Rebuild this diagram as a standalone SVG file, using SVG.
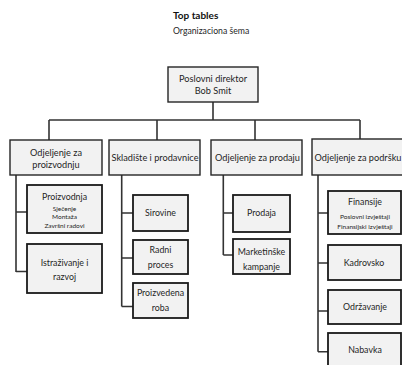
<svg xmlns="http://www.w3.org/2000/svg" width="402" height="365" viewBox="0 0 402 365">
<style>
.bg{fill:#ffffff}
.b1{fill:#f2f2f2;stroke:#262626;stroke-width:1.4}
.b2{fill:#f2f2f2;stroke:#1a1a1a;stroke-width:1.8}
.c{fill:none;stroke:#333333;stroke-width:1.6}
text{font-family:Lato,"Liberation Sans",sans-serif;fill:#1f1f1f;text-anchor:middle}
.t{font-size:9.2px}
.m{font-size:8.8px}
.s{font-size:6.5px}
.h{font-size:10px;font-weight:bold;text-anchor:start;fill:#111}
.h2{font-size:8.7px;text-anchor:start}
</style>
<rect class="bg" x="0" y="0" width="402" height="365"/>
<g id="title">
<text class="h" x="173" y="19">Top tables</text>
<text class="h2" x="173" y="34">Organizaciona šema</text>
</g>
<g id="connectors">
<path class="c" d="M213,102 V120 M49,120 H360 M49,120 V140 M157,120 V140 M255,120 V140 M360,120 V139"/>
<path class="c" d="M16,175 V272 M16,212 H27 M16,271.5 H27"/>
<path class="c" d="M121.7,175 V306.5 M121.7,213 H133 M121.7,258 H133 M121.7,306.5 H133"/>
<path class="c" d="M223.3,175 V255 M223.3,213 H233 M223.3,255 H233"/>
<path class="c" d="M318,175 V351.7 M318,213 H328 M318,263 H328 M318,311 H328 M318,351.7 H328"/>
</g>
<g id="n-direktor">
<rect class="b1" x="168" y="67" width="90" height="35"/>
<text class="t" x="213" y="81.5">Poslovni direktor</text>
<text class="t" x="213" y="94">Bob Smit</text>
</g>
<g id="n-proizvodnju">
<rect class="b1" x="10" y="140" width="92" height="35"/>
<text class="t" x="56" y="155.5">Odjeljenje za</text>
<text class="t" x="56" y="168">proizvodnju</text>
</g>
<g id="n-skladiste">
<rect class="b1" x="109" y="140" width="91" height="35"/>
<text class="t" x="155" y="160.5">Skladište i prodavnice</text>
</g>
<g id="n-prodaju">
<rect class="b1" x="211" y="140" width="91" height="35"/>
<text class="t" x="257.5" y="160.5">Odjeljenje za prodaju</text>
</g>
<g id="n-podrsku">
<rect class="b1" x="312" y="139" width="95" height="36"/>
<text class="t" x="358" y="160.5">Odjeljenje za podršku</text>
</g>
<g id="n-proizvodnja">
<rect class="b2" x="27" y="185" width="75" height="48"/>
<text class="m" x="64.5" y="200">Proizvodnja</text>
<text class="s" x="64.5" y="210.5">Sječenje</text>
<text class="s" x="64.5" y="219">Montaža</text>
<text class="s" x="64.5" y="227.5">Završni radovi</text>
</g>
<g id="n-istrazivanje">
<rect class="b2" x="27" y="244" width="75" height="49"/>
<text class="m" x="64.5" y="266">Istraživanje i</text>
<text class="m" x="64.5" y="280">razvoj</text>
</g>
<g id="n-sirovine">
<rect class="b2" x="133" y="195" width="55" height="36"/>
<text class="m" x="160.5" y="216">Sirovine</text>
</g>
<g id="n-radni">
<rect class="b2" x="133" y="240" width="55" height="34"/>
<text class="m" x="160.5" y="253">Radni</text>
<text class="m" x="160.5" y="268">proces</text>
</g>
<g id="n-roba">
<rect class="b2" x="133" y="283" width="55" height="35"/>
<text class="m" x="160.5" y="296">Proizvedena</text>
<text class="m" x="160.5" y="311">roba</text>
</g>
<g id="n-prodaja">
<rect class="b2" x="233" y="195" width="57" height="37"/>
<text class="m" x="261.5" y="216">Prodaja</text>
</g>
<g id="n-marketing">
<rect class="b2" x="233" y="239" width="57" height="35"/>
<text class="m" x="261.5" y="254.5">Marketinške</text>
<text class="m" x="261.5" y="270">kampanje</text>
</g>
<g id="n-finansije">
<rect class="b2" x="328" y="191" width="73" height="43"/>
<text class="m" x="365" y="205">Finansije</text>
<text class="s" x="365" y="218.5">Poslovni izvještaji</text>
<text class="s" x="365" y="228.5">Finansijski izvještaji</text>
</g>
<g id="n-kadrovsko">
<rect class="b2" x="328" y="245" width="73" height="35"/>
<text class="m" x="364" y="265.5">Kadrovsko</text>
</g>
<g id="n-odrzavanje">
<rect class="b2" x="328" y="290" width="73" height="34"/>
<text class="m" x="365" y="310">Održavanje</text>
</g>
<g id="n-nabavka">
<rect class="b2" x="328" y="333" width="73" height="36"/>
<text class="m" x="365" y="353">Nabavka</text>
</g>
</svg>
